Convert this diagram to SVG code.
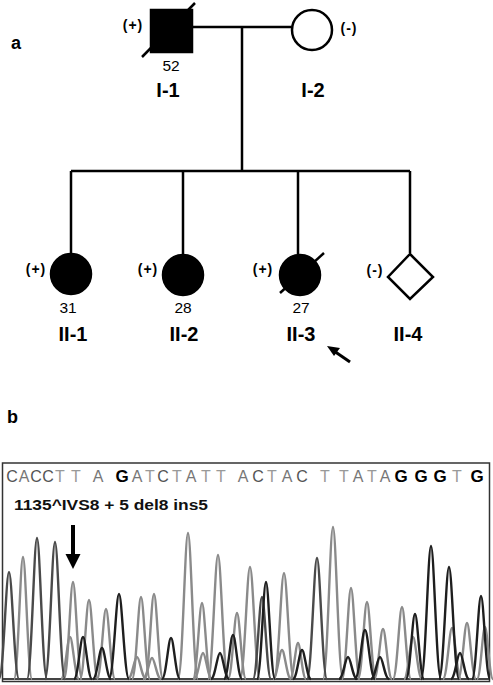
<svg xmlns="http://www.w3.org/2000/svg" xmlns:xlink="http://www.w3.org/1999/xlink" width="493" height="685" viewBox="0 0 493 685">
<style>
.ln{stroke:#000;stroke-width:2.5;fill:none}
.aff{fill:#000;stroke:#000;stroke-width:2.5}
.un{fill:#fff;stroke:#000;stroke-width:2.5}
.lab{font-family:"Liberation Sans",Arial,sans-serif;font-weight:bold;font-size:20px;text-anchor:middle;fill:#000}
.st{font-family:"Liberation Sans",Arial,sans-serif;font-weight:bold;font-size:14px;letter-spacing:1px;text-anchor:middle;fill:#000}
.age{font-family:"Liberation Sans",Arial,sans-serif;font-size:15.5px;text-anchor:middle;fill:#000}
.pl{font-family:"Liberation Sans",Arial,sans-serif;font-weight:bold;font-size:18px;fill:#000}
.seq{font-family:"Liberation Sans",Arial,sans-serif;font-size:16px;text-anchor:middle}
.A{fill:#777}.C{fill:#555}.T{fill:#999}.G{fill:#000;font-weight:bold;font-size:17px}
.d{stroke:#4a4a4a;stroke-width:2.4;fill:none}
.l{stroke:#8a8a8a;stroke-width:2.4;fill:none}
.k{stroke:#1e1e1e;stroke-width:2.4;fill:none}
</style>
<defs>
<path id="pk" d="M-1,0 C-0.55,0 -0.3,-1 0,-1 C0.3,-1 0.55,0 1,0" vector-effect="non-scaling-stroke"/>
</defs>

<text class="pl" x="11" y="49">a</text>
<text class="pl" x="7" y="423">b</text>

<g id="connectors">
<line class="ln" x1="192" y1="27" x2="291" y2="27"/>
<line class="ln" x1="242" y1="27" x2="242" y2="171"/>
<line class="ln" x1="71" y1="171" x2="410" y2="171"/>
<line class="ln" x1="71" y1="171" x2="71" y2="253"/>
<line class="ln" x1="183" y1="171" x2="183" y2="254"/>
<line class="ln" x1="298" y1="171" x2="298" y2="254"/>
<line class="ln" x1="410" y1="171" x2="410" y2="253"/>
</g>

<g id="I-1">
<rect class="aff" x="151" y="10" width="41" height="42"/>
<line class="ln" x1="142" y1="57" x2="195" y2="3"/>
<text class="st" x="133" y="30">(+)</text>
<text class="age" x="171" y="71">52</text>
<text class="lab" x="168" y="97">I-1</text>
</g>

<g id="I-2">
<circle class="un" cx="312" cy="30" r="20"/>
<text class="st" x="349" y="33">(-)</text>
<text class="lab" x="313" y="97">I-2</text>
</g>

<g id="II-1">
<circle class="aff" cx="71" cy="274" r="20"/>
<text class="st" x="36" y="274">(+)</text>
<text class="age" x="68" y="313">31</text>
<text class="lab" x="73" y="341">II-1</text>
</g>

<g id="II-2">
<circle class="aff" cx="183" cy="275" r="20"/>
<text class="st" x="148" y="274">(+)</text>
<text class="age" x="183" y="313">28</text>
<text class="lab" x="184" y="341">II-2</text>
</g>

<g id="II-3">
<circle class="aff" cx="300" cy="275" r="20"/>
<line class="ln" x1="280" y1="293" x2="324" y2="253"/>
<text class="st" x="263" y="274">(+)</text>
<text class="age" x="301" y="313">27</text>
<text class="lab" x="301" y="341">II-3</text>
<line x1="350" y1="362" x2="334" y2="351" stroke="#000" stroke-width="3"/>
<polygon points="327,346 340,348 334,356" fill="#000"/>
</g>

<g id="II-4">
<polygon class="un" points="410,254 433,277 410,299 388,277"/>
<text class="st" x="375" y="275">(-)</text>
<text class="lab" x="408" y="341">II-4</text>
</g>

<g id="chromatogram">
<rect x="2.5" y="463" width="487" height="218.5" fill="none" stroke="#333" stroke-width="1.5"/>
<g class="seqrow">
<text class="seq C" x="12" y="482">C</text>
<text class="seq A" x="24" y="482">A</text>
<text class="seq C" x="36" y="482">C</text>
<text class="seq C" x="48" y="482">C</text>
<text class="seq T" x="60" y="482">T</text>
<text class="seq T" x="76" y="482">T</text>
<text class="seq A" x="98" y="482">A</text>
<text class="seq G" x="122" y="482">G</text>
<text class="seq A" x="137" y="482">A</text>
<text class="seq T" x="150" y="482">T</text>
<text class="seq C" x="163" y="482">C</text>
<text class="seq T" x="177" y="482">T</text>
<text class="seq A" x="191" y="482">A</text>
<text class="seq T" x="206" y="482">T</text>
<text class="seq T" x="221" y="482">T</text>
<text class="seq A" x="243" y="482">A</text>
<text class="seq C" x="258" y="482">C</text>
<text class="seq T" x="272" y="482">T</text>
<text class="seq A" x="287" y="482">A</text>
<text class="seq C" x="302" y="482">C</text>
<text class="seq T" x="325" y="482">T</text>
<text class="seq T" x="344" y="482">T</text>
<text class="seq A" x="358" y="482">A</text>
<text class="seq T" x="372" y="482">T</text>
<text class="seq A" x="385" y="482">A</text>
<text class="seq G" x="401" y="482">G</text>
<text class="seq G" x="421" y="482">G</text>
<text class="seq G" x="440" y="482">G</text>
<text class="seq T" x="457" y="482">T</text>
<text class="seq G" x="477" y="482">G</text>
</g>
<text x="14" y="510" font-family="'Liberation Sans',Arial,sans-serif" font-size="14.5" font-weight="bold" textLength="194" lengthAdjust="spacingAndGlyphs" fill="#111">1135^IVS8 + 5 del8 ins5</text>
<line x1="73" y1="525" x2="73" y2="556" stroke="#000" stroke-width="4"/>
<polygon points="65.5,554 80.5,554 73,569" fill="#000"/>

<line x1="3" y1="679" x2="489" y2="679" stroke="#444" stroke-width="2"/>
<!-- light gray trace -->
<use xlink:href="#pk" class="l" transform="translate(23,679) scale(9,122)"/>
<use xlink:href="#pk" class="l" transform="translate(73,679) scale(9,97)"/>
<use xlink:href="#pk" class="l" transform="translate(89,679) scale(9,79)"/>
<use xlink:href="#pk" class="l" transform="translate(106,679) scale(9,70)"/>
<use xlink:href="#pk" class="l" transform="translate(141,679) scale(9,82)"/>
<use xlink:href="#pk" class="l" transform="translate(154,679) scale(9,85)"/>
<use xlink:href="#pk" class="l" transform="translate(188,679) scale(10,146)"/>
<use xlink:href="#pk" class="l" transform="translate(202,679) scale(9,76)"/>
<use xlink:href="#pk" class="l" transform="translate(218,679) scale(10,124)"/>
<use xlink:href="#pk" class="l" transform="translate(237,679) scale(9,66)"/>
<use xlink:href="#pk" class="l" transform="translate(250,679) scale(10,112)"/>
<use xlink:href="#pk" class="l" transform="translate(284,679) scale(10,106)"/>
<use xlink:href="#pk" class="l" transform="translate(298,679) scale(8,36)"/>
<use xlink:href="#pk" class="l" transform="translate(333,679) scale(10,152)"/>
<use xlink:href="#pk" class="l" transform="translate(351,679) scale(9,91)"/>
<use xlink:href="#pk" class="l" transform="translate(367,679) scale(9,77)"/>
<use xlink:href="#pk" class="l" transform="translate(383,679) scale(9,50)"/>
<use xlink:href="#pk" class="l" transform="translate(402,679) scale(9,72)"/>
<use xlink:href="#pk" class="l" transform="translate(452,679) scale(9,51)"/>
<use xlink:href="#pk" class="l" transform="translate(467,679) scale(9,56)"/>
<use xlink:href="#pk" class="l" transform="translate(485,679) scale(8,52)"/>
<use xlink:href="#pk" class="l" transform="translate(70,679) scale(9,42)"/>
<use xlink:href="#pk" class="l" transform="translate(137,679) scale(9,22)"/>
<use xlink:href="#pk" class="l" transform="translate(152,679) scale(9,21)"/>
<use xlink:href="#pk" class="l" transform="translate(203,679) scale(9,26)"/>
<use xlink:href="#pk" class="l" transform="translate(282,679) scale(9,29)"/>
<use xlink:href="#pk" class="l" transform="translate(413,679) scale(9,42)"/>
<!-- dark gray trace -->
<use xlink:href="#pk" class="d" transform="translate(9,679) scale(10,107)"/>
<use xlink:href="#pk" class="d" transform="translate(37,679) scale(10,141)"/>
<use xlink:href="#pk" class="d" transform="translate(55,679) scale(10,137)"/>
<use xlink:href="#pk" class="d" transform="translate(317,679) scale(10,121)"/>
<use xlink:href="#pk" class="d" transform="translate(262,679) scale(9,82)"/>
<!-- black trace -->
<use xlink:href="#pk" class="k" transform="translate(119,679) scale(10,85)"/>
<use xlink:href="#pk" class="k" transform="translate(171,679) scale(9,41)"/>
<use xlink:href="#pk" class="k" transform="translate(266,679) scale(9,97)"/>
<use xlink:href="#pk" class="k" transform="translate(415,679) scale(9,65)"/>
<use xlink:href="#pk" class="k" transform="translate(431,679) scale(10,133)"/>
<use xlink:href="#pk" class="k" transform="translate(449,679) scale(10,112)"/>
<use xlink:href="#pk" class="k" transform="translate(481,679) scale(9,83)"/>
<use xlink:href="#pk" class="k" transform="translate(83,679) scale(9,42)"/>
<use xlink:href="#pk" class="k" transform="translate(102,679) scale(9,31)"/>
<use xlink:href="#pk" class="k" transform="translate(220,679) scale(9,26)"/>
<use xlink:href="#pk" class="k" transform="translate(233,679) scale(9,44)"/>
<use xlink:href="#pk" class="k" transform="translate(302,679) scale(9,29)"/>
<use xlink:href="#pk" class="k" transform="translate(348,679) scale(9,22)"/>
<use xlink:href="#pk" class="k" transform="translate(365,679) scale(10,49)"/>
<use xlink:href="#pk" class="k" transform="translate(380,679) scale(9,22)"/>
<use xlink:href="#pk" class="k" transform="translate(460,679) scale(9,26)"/>
</g>
</svg>
